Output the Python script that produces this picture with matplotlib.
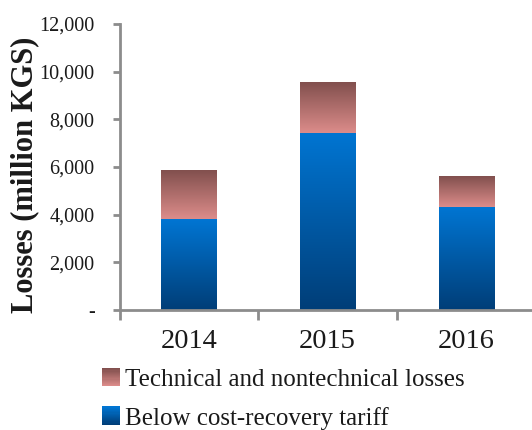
import matplotlib
matplotlib.use("Agg")
import matplotlib.pyplot as plt
import numpy as np
from matplotlib.patches import Patch, Rectangle
from matplotlib.legend_handler import HandlerBase
from matplotlib.ticker import FixedLocator, FuncFormatter

# ------------------------ #
# DATA
# ------------------------ #
years = ["2014", "2015", "2016"]
below_tariff = [3800, 7430, 4320]
tech_losses = [2040, 2100, 1260]

series_labels = ["Below cost-recovery tariff", "Technical and nontechnical losses"]
ylabel = "Losses (million KGS)"

# gradient end colours (top, bottom)
blue_grad = ((0, 117, 210), (0, 62, 120))
red_grad = ((130, 80, 78), (220, 140, 138))

plt.rcParams["font.family"] = ["Liberation Serif", "DejaVu Serif"]


def grad_colors(grad, n=64):
    top = np.array(grad[0]) / 255.0
    bot = np.array(grad[1]) / 255.0
    t = np.linspace(0, 1, n)[:, None]
    # row 0 is bottom
    return bot * (1 - t) + top * t


class GradientHandler(HandlerBase):
    def __init__(self, grad):
        super().__init__()
        self.grad = grad

    def create_artists(self, legend, orig_handle, xdescent, ydescent,
                       width, height, fontsize, trans):
        cols = grad_colors(self.grad, 16)
        n = len(cols)
        arts = []
        for i, c in enumerate(cols):
            r = Rectangle((-xdescent, -ydescent + height * i / n), width,
                          height / n + 0.3, facecolor=c, edgecolor="none",
                          transform=trans)
            arts.append(r)
        return arts


fig = plt.figure(figsize=(5.32, 4.30), dpi=100)
ax = fig.add_axes([119.6 / 532, 120 / 430, 416 / 532, 286 / 430])

x = np.arange(len(years))
width = 0.4

b1 = ax.bar(x, below_tariff, width, facecolor="none", edgecolor="none")
b2 = ax.bar(x, tech_losses, width, bottom=below_tariff,
            facecolor="none", edgecolor="none")

for bars, grad in ((b1, blue_grad), (b2, red_grad)):
    img = grad_colors(grad)[:, None, :]
    for r in bars:
        x0, y0 = r.get_x(), r.get_y()
        ax.imshow(img, extent=(x0, x0 + r.get_width(), y0, y0 + r.get_height()),
                  origin="lower", aspect="auto", interpolation="bilinear", zorder=2)

ax.set_xlim(-0.5, len(years) - 0.5)
ax.set_ylim(0, 12000)

# spines
for s in ("top", "right"):
    ax.spines[s].set_visible(False)
for s in ("left", "bottom"):
    ax.spines[s].set_color("#8c8c8c")
    ax.spines[s].set_linewidth(2)

# y axis
ax.yaxis.set_major_locator(FixedLocator(np.arange(0, 12001, 2000)))
ax.yaxis.set_major_formatter(FuncFormatter(lambda v, p: "-" if v == 0 else f"{v:,.0f}"))
ax.tick_params(axis="y", which="major", length=5, width=2, color="#8c8c8c",
               pad=13, labelsize=14.5, labelcolor="#1a1a1a")

# x axis: ticks on boundaries, labels at centres
ax.xaxis.set_major_locator(FixedLocator(np.arange(-0.5, len(years), 1.0)))
ax.xaxis.set_major_formatter(FuncFormatter(lambda v, p: ""))
ax.xaxis.set_minor_locator(FixedLocator(x))
ax.xaxis.set_minor_formatter(FuncFormatter(lambda v, p: years[int(round(v))]))
ax.tick_params(axis="x", which="major", length=7, width=2, color="#8c8c8c")
ax.tick_params(axis="x", which="minor", length=0, pad=14, labelsize=20.5,
               labelcolor="#1a1a1a")

ax.set_ylabel(ylabel, fontsize=22, fontweight="bold", color="#1a1a1a")
ax.yaxis.set_label_coords(-0.194, 0.472)

h_blue = Patch(label=series_labels[0])
h_red = Patch(label=series_labels[1])
fig.legend([h_red, h_blue], [series_labels[1], series_labels[0]],
           handler_map={h_red: GradientHandler(red_grad), h_blue: GradientHandler(blue_grad)},
           loc="lower left", bbox_to_anchor=(102 / 532, 0.5 / 430),
           frameon=False, fontsize=18, handlelength=0.7, handleheight=0.74,
           handletextpad=0.22, labelspacing=0.62, borderpad=0, borderaxespad=0,
           labelcolor="#1a1a1a")

fig.savefig("out.png", dpi=100)
